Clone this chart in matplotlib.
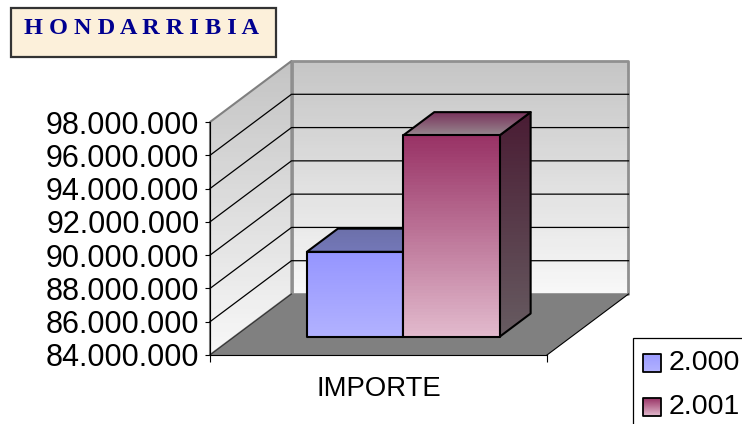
import matplotlib
matplotlib.use("Agg")
import matplotlib.pyplot as plt
import numpy as np
from matplotlib.colors import LinearSegmentedColormap
from matplotlib.patches import Polygon, Rectangle

plt.rcParams["font.family"] = ["Liberation Sans", "DejaVu Sans"]

TITLE = "H O N D A R R I B I A"
CATEGORY = "IMPORTE"
SERIES = ["2.000", "2.001"]
VALUES = [89100000, 96100000]
TICKS = [84000000, 86000000, 88000000, 90000000, 92000000, 94000000, 96000000, 98000000]

W, H = 742, 424
VMIN, VMAX = TICKS[0], TICKS[-1]

# oblique depth: how far one full unit of depth shifts a point, in data units
DX = 81.5 / 337
DY = 61 / 233 * (VMAX - VMIN)

BAR_STYLE = [
    dict(front=("#9696ff", "#b2b2ff"), top=("#6c70aa", "#7478b8"), side=("#4a4a80", "#5a5a90")),
    dict(front=("#993366", "#e2bacd"), top=("#78305a", "#96858d"), side=("#4a1c34", "#675c61")),
]


def pt(x, v, d=0.0):
    return (x + d * DX, v + d * DY)


def grad(ax, verts, top, bottom, edge=None, lw=1.5, z=1):
    xs, ys = zip(*verts)
    cmap = LinearSegmentedColormap.from_list("g", [top, bottom])
    poly = Polygon(verts, closed=True, facecolor="none", edgecolor=edge or "none",
                   lw=lw, clip_on=False, zorder=z + 0.1, joinstyle="round")
    ax.add_patch(poly)
    ymin, ymax = min(ys), max(ys)
    if ax.yaxis_inverted():
        ymin, ymax = ymax, ymin
    im = ax.imshow(np.linspace(0, 1, 64).reshape(-1, 1), cmap=cmap, aspect="auto",
                   extent=(min(xs), max(xs), ymin, ymax), origin="upper", zorder=z)
    im.set_clip_box(ax.get_figure().bbox)
    im.set_clip_path(Polygon(verts, closed=True, transform=ax.transData))


fig = plt.figure(figsize=(W / 100, H / 100), dpi=100)
ax = fig.add_axes([210 / W, (H - 355) / H, 337 / W, 233 / H])
ax.patch.set_visible(False)

# walls and floor
grad(ax, [pt(0, VMIN), pt(0, VMAX), pt(0, VMAX, 1), pt(0, VMIN, 1)],
     "#c4c4c4", "#f8f8f8", edge="#808080", lw=1.5, z=1)
grad(ax, [pt(0, VMIN, 1), pt(0, VMAX, 1), pt(1, VMAX, 1), pt(1, VMIN, 1)],
     "#c6c6c6", "#f8f8f8", edge="#909090", lw=2, z=1)
for t in TICKS[1:-1]:
    line = [pt(0, t), pt(0, t, 1), pt(1, t, 1)]
    ax.plot(*zip(*line), color="black", lw=0.9, clip_on=False, zorder=2)
ax.add_patch(Polygon([pt(0, VMIN), pt(0, VMIN, 1), pt(1, VMIN, 1), pt(1, VMIN)],
                     closed=True, facecolor="#808080", edgecolor="none",
                     clip_on=False, zorder=3))
ax.plot(*zip(pt(1, VMIN), pt(1, VMIN, 1)), color="black", lw=0.8, clip_on=False, zorder=3.1)
ax.plot(*zip(pt(0, VMIN), pt(0, VMIN, 1)), color="#333333", lw=0.8, clip_on=False, zorder=3.1)

# bars
left = 0.215
width = 0.286
d0, d1 = 0.3, 0.68
for i, (val, st) in enumerate(zip(VALUES, BAR_STYLE)):
    x0 = left + i * width
    x1 = x0 + width
    z = 4 + i
    grad(ax, [pt(x1, VMIN, d0), pt(x1, val, d0), pt(x1, val, d1), pt(x1, VMIN, d1)],
         *st["side"], edge="black", z=z)
    grad(ax, [pt(x0, val, d0), pt(x0, val, d1), pt(x1, val, d1), pt(x1, val, d0)],
         st["top"][0], st["top"][1], edge="black", z=z + 0.2)
    grad(ax, [pt(x0, VMIN, d0), pt(x0, val, d0), pt(x1, val, d0), pt(x1, VMIN, d0)],
         *st["front"], edge="black", z=z + 0.4)

ax.set_xlim(0, 1)
ax.set_ylim(VMIN, VMAX)
ax.set_yticks(TICKS)
ax.set_yticklabels([f"{t:,}".replace(",", ".") for t in TICKS], fontsize=22)
ax.set_xticks([0, 1])
ax.set_xticklabels(["", ""])
ax.tick_params(axis="y", length=3.6, width=0.8, pad=4)
ax.tick_params(axis="x", length=5, width=0.8)
ax.text(0.5, -0.145, CATEGORY, transform=ax.transAxes, ha="center", va="center", fontsize=19.8)
for s in ("top", "right"):
    ax.spines[s].set_visible(False)
for s in ("left", "bottom"):
    ax.spines[s].set_linewidth(0.8)
    ax.spines[s].set_zorder(8)

# overlay in pixels for the title box and legend
ov = fig.add_axes([0, 0, 1, 1], zorder=10)
ov.set_xlim(0, W)
ov.set_ylim(H, 0)
ov.axis("off")
ov.add_patch(Rectangle((11, 8), 265, 49, facecolor="#fcf0da", edgecolor="#333333", lw=1.6))
ov.text(24, 28, TITLE, ha="left", va="center", fontsize=17.5, fontweight="bold",
        family=["Liberation Serif"], color="#000090")

ov.add_patch(Rectangle((633, 338), 130, 110, facecolor="white", edgecolor="black", lw=0.9))
swatches = [("#9c9cff", "#b2b2ff"), ("#993366", "#e2bacd")]
for i, (name, (c0, c1)) in enumerate(zip(SERIES, swatches)):
    y = 354 + i * 44
    verts = [(643, y), (661, y), (661, y + 18), (643, y + 18)]
    grad(ov, verts, c0, c1, edge="black", lw=1.3, z=2)
    ov.text(669, y + 9, name, ha="left", va="center", fontsize=20.5)
ov.set_xlim(0, W)
ov.set_ylim(H, 0)

fig.savefig("out.png", dpi=100)
